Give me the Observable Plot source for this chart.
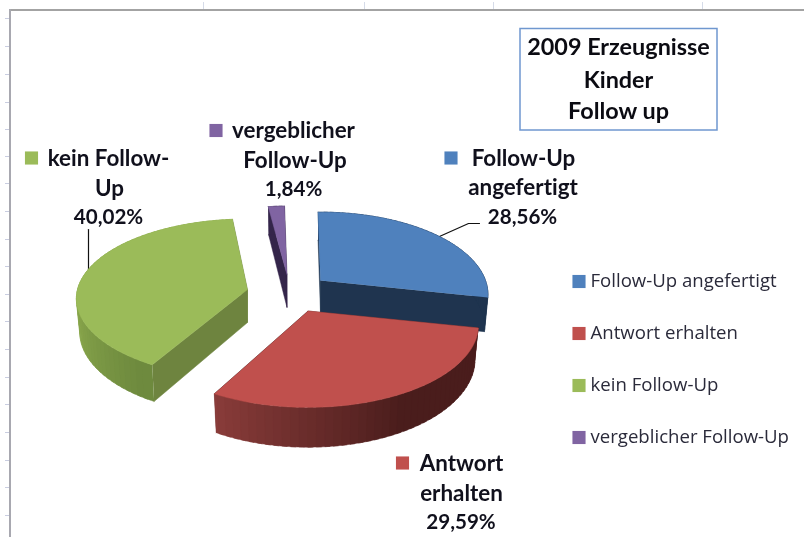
<!DOCTYPE html>
<html><head><meta charset="utf-8">
<script src="https://cdn.jsdelivr.net/npm/d3@7"></script>
<script src="https://cdn.jsdelivr.net/npm/@observablehq/plot@0.6"></script>
<style>html,body{margin:0;padding:0;background:#fff}svg{display:block}</style>
</head><body><div id="chart"></div>
<script>
const categories = ["Follow-Up angefertigt","Antwort erhalten","kein Follow-Up","vergeblicher Follow-Up"];
const shares = [28.56,29.59,40.02,1.84];
const topColors = ["#4f81bd","#c0504d","#9bbb59","#8064a2"];
const faceColors = ["#1f344f","#4a1d1c","#6e843f","#34254a"];
const wallFrom = ["#1f344f","#4a1d1c","#6e8a3e","#34254a"];
const wallTo = ["#1f344f","#8c3d3b","#8dab4e","#34254a"];
const apexX = [320,307.5,247,286.5];
const apexY = [280,310.5,289,274];
const radiusX = [165,168,170,165];
const radiusY = [80,80,78.6,80];
const perspective = [0.17,0.17,0.115,0.17];
const sliceTurn = [0,0,2,0];
const leaderGreenX = [88,88];
const leaderGreenY = [229,290];
const leaderBlueX = [430,468,479];
const leaderBlueY = [240,223,223];

const labelLines = ["kein Follow-","Up","40,02%","vergeblicher","Follow-Up","1,84%","Follow-Up","angefertigt","28,56%","Antwort","erhalten","29,59%"];
const labelX = [108,109,108,293,294.5,293,523,522.5,522,461,461,460.5];
const labelY = [158,188,217,130,160,189,158,187,217,463,493,522];
const labelSize = [22.4,22.4,20.6,22.4,22.4,20.6,22.4,22.4,20.6,22.4,22.4,20.6];
const keyX = [450.5,402,31,215.5];
const keyY = [157.5,462.5,157.5,130];
const legendY = [281,333,385,437];
const titleLines = ["2009 Erzeugnisse","Kinder","Follow up"];
const titleY = [47,80,111];
const leftTicks = [18,46,74,102,129,156,183,211,239,266,294,321,349,377,404,432,460,487,515];
const topTicks = [203,364,493,702];

const depth=33, shrink=0.98, rot=-1;
const rad=d=>d*Math.PI/180;
function proj(i,deg,r,level){
  const t=rad(deg+sliceTurn[i]), f=1/(1+perspective[i]*Math.cos(t)*r);
  const k=level?shrink:1;
  return {x:apexX[i]+radiusX[i]*Math.sin(t)*r*f*k, y:apexY[i]-radiusY[i]*Math.cos(t)*r*f+level*depth*f};
}
const total=d3.sum(shares);
let acc=rot;
const spans=shares.map(v=>{const a=acc; acc+=v/total*360; return [a,acc];});
const pts=[];
function poly(name,color,list){for(const p of list)pts.push({...p,face:name,color});}
[2,3,0,1].forEach(i=>{
  const [a,b]=spans[i];
  poly("s"+i,faceColors[i],[proj(i,a,1,0),proj(i,a,0,0),proj(i,a,0,1),proj(i,a,1,1)]);
  poly("e"+i,faceColors[i],[proj(i,b,1,0),proj(i,b,0,0),proj(i,b,0,1),proj(i,b,1,1)]);
  const n=Math.max(1,Math.ceil((b-a)/2.5));
  const mix=d3.interpolateRgb(wallFrom[i],wallTo[i]);
  for(let j=n-1;j>=0;j--){
    const u=a+(b-a)*j/n, v=Math.min(b,a+(b-a)*(j+1.6)/n), m=a+(b-a)*(j+.5)/n;
    let tt=0;
    if(i===2) tt=Math.max(0,Math.min(1,(m-212)/50));
    if(i===1) tt=1-Math.max(0,Math.min(1,(209-m)/59));
    poly("w"+i+"_"+j,mix(tt),[proj(i,u,1,0),...d3.range(1,5).map(q=>proj(i,u+(v-u)*q/4,1,0)),...d3.range(4,-1,-1).map(q=>proj(i,u+(v-u)*q/4,1,1))]);
  }
  const arc=d3.range(n+1).map(j=>proj(i,a+(b-a)*j/n,1,0));
  poly("t"+i,topColors[i],[proj(i,a,0,0),...arc]);
});

const ink="#10101c";
const chart=Plot.plot({
  width:804,height:537,marginTop:0,marginRight:0,marginBottom:0,marginLeft:0,
  x:{domain:[0,804],range:[0,804],axis:null},
  y:{domain:[0,537],range:[0,537],axis:null},
  color:{type:"identity"},
  style:{background:"#fff",fontFamily:"Lato, sans-serif",fontVariantLigatures:"none",filter:"blur(0.35px)"},
  marks:[
    Plot.ruleY(leftTicks,{x1:5,x2:9,y:d=>d,stroke:"#c9cde0",strokeWidth:1}),
    Plot.ruleX(topTicks,{y1:2,y2:9,x:d=>d,stroke:"#d5dbe8",strokeWidth:1}),
    Plot.ruleY([9.5],{x1:9,x2:804,stroke:"#a3a3a3",strokeWidth:2}),
    Plot.ruleX([9.5],{y1:9,y2:537,stroke:"#a8a8b0",strokeWidth:2}),
    Plot.line(leaderGreenX.map((x,i)=>({x,y:leaderGreenY[i]})),{x:"x",y:"y",stroke:"#111",strokeWidth:1.2}),
    Plot.line(leaderBlueX.map((x,i)=>({x,y:leaderBlueY[i]})),{x:"x",y:"y",stroke:"#111",strokeWidth:1.2}),
    Plot.line(pts,{x:"x",y:"y",z:"face",fill:"color",stroke:"color",strokeWidth:0.5,strokeLinejoin:"round"}),
    Plot.rect([0],{x1:()=>520,x2:()=>717,y1:()=>28.5,y2:()=>130,fill:"#fff",stroke:"#6f97cf",strokeWidth:1.5}),
    Plot.text(titleLines,{x:()=>618,y:(d,i)=>titleY[i],text:d=>d,fontSize:23.4,fontWeight:700,fill:"#0b0b12",textAnchor:"middle"}),
    Plot.text(labelLines,{x:(d,i)=>labelX[i],y:(d,i)=>labelY[i],text:d=>d,fontSize:(d,i)=>labelSize[i],fontWeight:700,fill:ink,textAnchor:"middle"}),
    Plot.dot(categories,{x:(d,i)=>keyX[i],y:(d,i)=>keyY[i],symbol:"square",r:7.4,fill:(d,i)=>topColors[i],stroke:null}),
    Plot.dot(categories,{x:()=>578.5,y:(d,i)=>legendY[i],symbol:"square",r:7.4,fill:(d,i)=>topColors[i],stroke:null}),
    Plot.text(categories,{x:()=>590,y:(d,i)=>legendY[i],text:d=>d,fontSize:18.6,fontFamily:"Open Sans, sans-serif",fill:"#2a2a3a",textAnchor:"start"})
  ]
});
document.getElementById("chart").append(chart);
</script></body></html>
